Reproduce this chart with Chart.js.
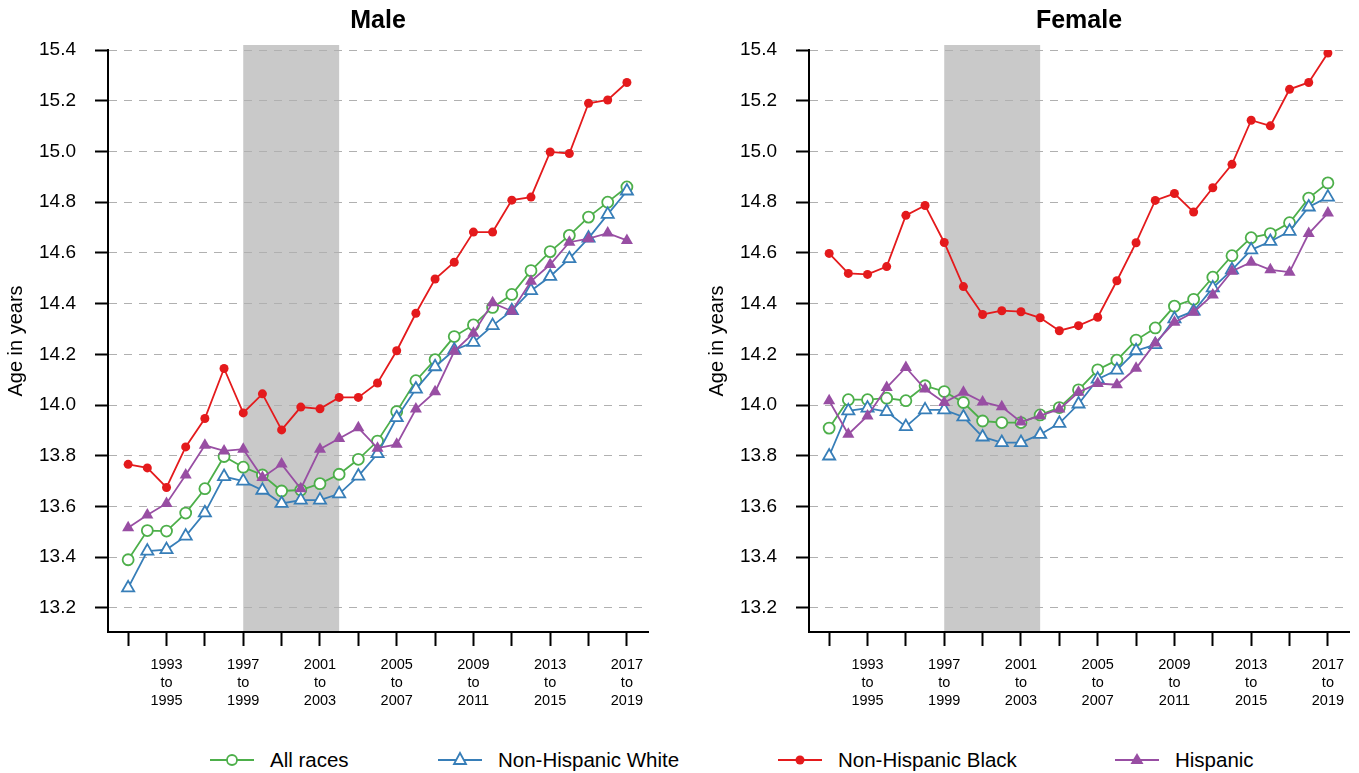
<!DOCTYPE html>
<html>
<head>
<meta charset="utf-8">
<script src="https://cdn.jsdelivr.net/npm/chart.js@4.4.1/dist/chart.umd.min.js"></script>
<style>
  body { margin: 0; background: #fff; width: 1359px; height: 773px; overflow: hidden; position: relative; }
  #maleBox { position: absolute; left: 0; top: 0; }
  #femaleBox { position: absolute; left: 701px; top: 0; }
  .item { position: absolute; top: 748px; height: 24px; display: flex; align-items: center;
          font-family: 'Liberation Sans Narrow', 'Arial Narrow', 'Liberation Sans', Arial, sans-serif;
          font-size: 20.5px; color: #000; white-space: nowrap; }
  .item svg { margin-right: 16px; }
</style>
</head>
<body>
<div id="maleBox"><canvas id="maleChart" width="680" height="740"></canvas></div>
<div id="femaleBox"><canvas id="femaleChart" width="658" height="740"></canvas></div>

<div class="item" style="left:210px">
  <svg width="44" height="20"><line x1="0" y1="10" x2="44" y2="10" stroke="#4daf4a" stroke-width="2"/><circle cx="22" cy="10" r="5" fill="#fff" stroke="#4daf4a" stroke-width="1.8"/></svg>All races</div>
<div class="item" style="left:438px">
  <svg width="44" height="20"><line x1="0" y1="10" x2="44" y2="10" stroke="#377eb8" stroke-width="2"/><polygon points="22,3 28,14 16,14" fill="#fff" stroke="#377eb8" stroke-width="1.8"/></svg>Non-Hispanic White</div>
<div class="item" style="left:778px">
  <svg width="44" height="20"><line x1="0" y1="10" x2="44" y2="10" stroke="#e41a1c" stroke-width="2"/><circle cx="22" cy="10" r="4.5" fill="#e41a1c"/></svg>Non-Hispanic Black</div>
<div class="item" style="left:1115px">
  <svg width="44" height="20"><line x1="0" y1="10" x2="44" y2="10" stroke="#984ea3" stroke-width="2"/><polygon points="22,3 28.5,14 15.5,14" fill="#984ea3"/></svg>Hispanic</div>

<script>
"use strict"

// Perioder (3-årsintervall)
const periods = ["1991 to 1993", "1992 to 1994", "1993 to 1995", "1994 to 1996", "1995 to 1997",
    "1996 to 1998", "1997 to 1999", "1998 to 2000", "1999 to 2001", "2000 to 2002", "2001 to 2003",
    "2002 to 2004", "2003 to 2005", "2004 to 2006", "2005 to 2007", "2006 to 2008", "2007 to 2009",
    "2008 to 2010", "2009 to 2011", "2010 to 2012", "2011 to 2013", "2012 to 2014", "2013 to 2015",
    "2014 to 2016", "2015 to 2017", "2016 to 2018", "2017 to 2019"];

// Perioder som får etikett på x-axeln
const labeledPeriods = ["1993 to 1995", "1997 to 1999", "2001 to 2003", "2005 to 2007",
    "2009 to 2011", "2013 to 2015", "2017 to 2019"];

// Grått fält
const shadeFrom = "1997 to 1999";
const shadeTo = "2002 to 2004";

const yTicks = [13.2, 13.4, 13.6, 13.8, 14.0, 14.2, 14.4, 14.6, 14.8, 15.0, 15.2, 15.4];

const seriesNames = ["All races", "Non-Hispanic White", "Non-Hispanic Black", "Hispanic"];

// Pojkar
const maleAll = [13.39, 13.505, 13.503, 13.574, 13.67, 13.797, 13.755, 13.724, 13.661, 13.665, 13.69,
    13.727, 13.786, 13.858, 13.974, 14.096, 14.179, 14.27, 14.316, 14.385, 14.436, 14.53, 14.605,
    14.669, 14.741, 14.80, 14.86];
const maleWhite = [13.279, 13.424, 13.43, 13.483, 13.575, 13.718, 13.70, 13.664, 13.612, 13.625, 13.625,
    13.65, 13.72, 13.808, 13.95, 14.063, 14.151, 14.217, 14.247, 14.313, 14.372, 14.451, 14.507,
    14.577, 14.658, 14.752, 14.844];
const maleBlack = [13.766, 13.752, 13.675, 13.835, 13.947, 14.144, 13.969, 14.044, 13.902, 13.992, 13.985,
    14.03, 14.03, 14.087, 14.214, 14.362, 14.497, 14.563, 14.682, 14.682, 14.808, 14.82, 14.998,
    14.992, 15.19, 15.203, 15.272];
const maleHisp = [13.516, 13.566, 13.612, 13.724, 13.841, 13.819, 13.826, 13.714, 13.767, 13.67, 13.826,
    13.868, 13.91, 13.83, 13.845, 13.984, 14.052, 14.212, 14.283, 14.403, 14.37, 14.488, 14.554,
    14.642, 14.656, 14.678, 14.649];

// Flickor
const femaleAll = [13.909, 14.021, 14.021, 14.027, 14.017, 14.076, 14.053, 14.01, 13.937, 13.931, 13.931,
    13.961, 13.99, 14.06, 14.139, 14.177, 14.256, 14.304, 14.39, 14.417, 14.504, 14.589, 14.66,
    14.676, 14.719, 14.816, 14.876];
const femaleWhite = [13.799, 13.977, 13.988, 13.974, 13.915, 13.981, 13.981, 13.953, 13.874, 13.852, 13.852,
    13.884, 13.928, 14.004, 14.102, 14.138, 14.214, 14.238, 14.34, 14.37, 14.462, 14.533, 14.612,
    14.645, 14.685, 14.781, 14.82];
const femaleBlack = [14.598, 14.519, 14.515, 14.546, 14.748, 14.787, 14.641, 14.467, 14.357, 14.372, 14.368,
    14.344, 14.293, 14.313, 14.346, 14.49, 14.64, 14.807, 14.834, 14.761, 14.857, 14.949, 15.123,
    15.101, 15.245, 15.272, 15.388];
const femaleHisp = [14.017, 13.885, 13.957, 14.069, 14.148, 14.063, 14.01, 14.05, 14.012, 13.993, 13.933,
    13.958, 13.984, 14.05, 14.085, 14.08, 14.145, 14.245, 14.326, 14.366, 14.434, 14.528, 14.563,
    14.533, 14.524, 14.676, 14.757];

const fontFamily = "'Liberation Sans Narrow', 'Arial Narrow', 'Liberation Sans', Arial, sans-serif";

// Ritar det grå fältet bakom linjerna
const shadePlugin = {
    id: "shade",
    beforeDraw(chart) {
        const {ctx, chartArea, scales} = chart;
        const x1 = scales.x.getPixelForValue(periods.indexOf(shadeFrom));
        const x2 = scales.x.getPixelForValue(periods.indexOf(shadeTo));
        ctx.save();
        ctx.fillStyle = "#c9c9c9";
        ctx.fillRect(x1, chartArea.top - 5, x2 - x1, chartArea.bottom - chartArea.top + 5);
        ctx.restore();
    }
};

function toPoints(values) {
    return values.map((v, i) => ({x: i, y: v}));
}

function createChart(id, title, all, white, black, hisp, rightPad) {
    const ctx = document.getElementById(id);
    new Chart(ctx, {
        type: "line",
        plugins: [shadePlugin],
        data: {
            datasets: [
                {label: seriesNames[0], data: toPoints(all), borderColor: "#4daf4a", backgroundColor: "#fff",
                    borderWidth: 1.8, pointStyle: "circle", pointRadius: 5.5, pointBorderWidth: 1.8, order: 3},
                {label: seriesNames[1], data: toPoints(white), borderColor: "#377eb8", backgroundColor: "#fff",
                    borderWidth: 1.8, pointStyle: "triangle", pointRadius: 7, pointBorderWidth: 1.8, order: 2},
                {label: seriesNames[2], data: toPoints(black), borderColor: "#e41a1c", backgroundColor: "#e41a1c",
                    borderWidth: 1.8, pointStyle: "circle", pointRadius: 4.5, pointBorderWidth: 0, order: 1},
                {label: seriesNames[3], data: toPoints(hisp), borderColor: "#984ea3", backgroundColor: "#984ea3",
                    borderWidth: 1.8, pointStyle: "triangle", pointRadius: 7, pointBorderWidth: 0, order: 0}
            ]
        },
        options: {
            responsive: false,
            animation: false,
            layout: {padding: {left: 0, right: rightPad, top: 0, bottom: 28}},
            plugins: {
                legend: {display: false},
                tooltip: {enabled: false},
                title: {
                    display: true, text: title, fullSize: false, color: "#000",
                    font: {family: fontFamily, size: 25, weight: "bold"},
                    padding: {top: 6, bottom: 14}
                }
            },
            scales: {
                x: {
                    type: "linear", min: -1.05, max: 27.1,
                    afterBuildTicks: s => { s.ticks = periods.map((p, i) => i).filter(i => i % 2 === 0).map(v => ({value: v})); },
                    afterFit: s => { s.height = 80; },
                    grid: {drawOnChartArea: false, tickLength: 14, tickColor: "#000", tickWidth: 2},
                    border: {color: "#000", width: 2},
                    ticks: {
                        autoSkip: false, maxRotation: 0, padding: 10, color: "#000",
                        font: {family: fontFamily, size: 14.5, lineHeight: 1.25},
                        callback: v => labeledPeriods.includes(periods[v]) ? periods[v].split(" ") : ""
                    }
                },
                y: {
                    min: 13.105, max: 15.4,
                    afterBuildTicks: s => { s.ticks = yTicks.map(v => ({value: v})); },
                    afterFit: s => { s.width = 108; },
                    grid: {color: "#b0b0b0", lineWidth: 1, tickLength: 13, tickColor: "#000", tickWidth: 2},
                    border: {color: "#000", width: 2, dash: [8, 7]},
                    ticks: {padding: 19, color: "#000", font: {family: fontFamily, size: 19}, callback: v => v.toFixed(1)},
                    title: {display: true, text: "Age in years", color: "#000",
                        font: {family: fontFamily, size: 20}, padding: {top: 4, bottom: 0}}
                }
            }
        }
    });
}

createChart("maleChart", "Male", maleAll, maleWhite, maleBlack, maleHisp, 32);
createChart("femaleChart", "Female", femaleAll, femaleWhite, femaleBlack, femaleHisp, 10);
</script>
</body>
</html>
